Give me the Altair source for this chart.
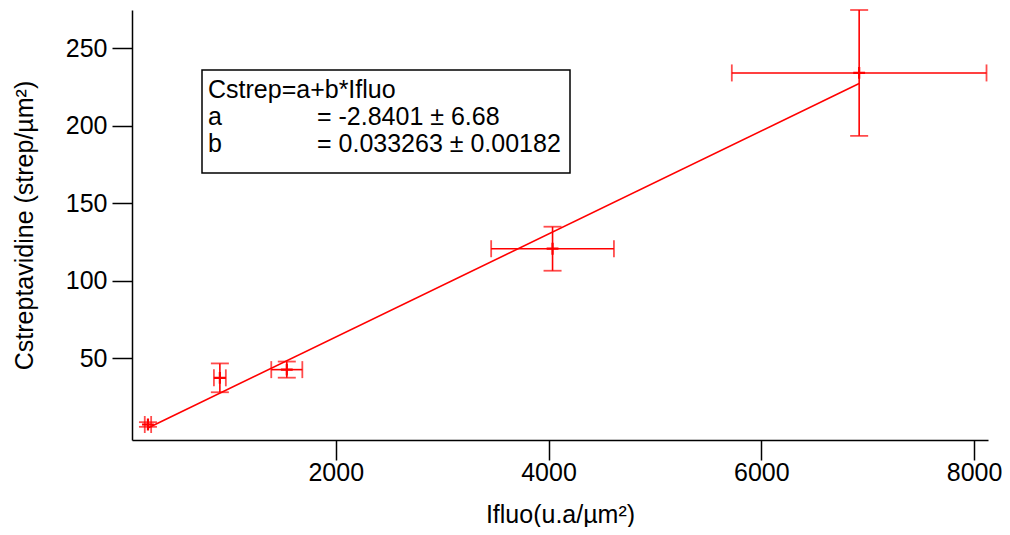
import altair as alt
import pandas as pd

# Data
ifluo = [235, 911, 1540, 4038, 6920]
cstrep = [7.3, 37.4, 42.7, 120.7, 234.1]
ifluo_err = [30, 56, 146, 577, 1197]
cstrep_err = [1.5, 9.3, 5.2, 14.2, 40.6]
fit_x = [235, 6920]
fit_y = [5.0, 227.3]
x_ticks = [2000, 4000, 6000, 8000]
y_ticks = [50, 100, 150, 200, 250]
legend_names = ["Cstrep=a+b*Ifluo", "a", "b"]
legend_values = ["", "= -2.8401 ± 6.68", "= 0.033263 ± 0.00182"]

RED = "#ff0000"
FONT = "Liberation Sans"
FS = 25

df = pd.DataFrame({"x": ifluo, "y": cstrep, "xe": ifluo_err, "ye": cstrep_err})
df["xlo"] = df["x"] - df["xe"]
df["xhi"] = df["x"] + df["xe"]
df["ylo"] = df["y"] - df["ye"]
df["yhi"] = df["y"] + df["ye"]

xcaps = pd.concat([
    pd.DataFrame({"x": df["xlo"], "y": df["y"]}),
    pd.DataFrame({"x": df["xhi"], "y": df["y"]}),
])
ycaps = pd.concat([
    pd.DataFrame({"x": df["x"], "y": df["ylo"]}),
    pd.DataFrame({"x": df["x"], "y": df["yhi"]}),
])
fit = pd.DataFrame({"x": fit_x, "y": fit_y})

xscale = alt.Scale(domain=[85, 8131], nice=False, zero=False)
yscale = alt.Scale(domain=[-2.7, 274.7], nice=False, zero=False)


def X(field="x"):
    return alt.X(f"{field}:Q", scale=xscale, title="Ifluo(u.a/µm²)",
                 axis=alt.Axis(values=x_ticks, format="d"))


def Y(field="y"):
    return alt.Y(f"{field}:Q", scale=yscale, title="Cstreptavidine (strep/µm²)",
                 axis=alt.Axis(values=y_ticks, format="d"))


line = alt.Chart(fit).mark_line(color=RED, strokeWidth=1.6).encode(x=X(), y=Y())

xbar = alt.Chart(df).mark_rule(color=RED, strokeWidth=1.6).encode(
    x=X("xlo"), x2="xhi:Q", y=Y())
ybar = alt.Chart(df).mark_rule(color=RED, strokeWidth=1.6).encode(
    x=X(), y=Y("ylo"), y2="yhi:Q")

xcap = alt.Chart(xcaps).mark_tick(color=RED, orient="vertical", size=17,
                                  thickness=1.8).encode(x=X(), y=Y())
ycap = alt.Chart(ycaps).mark_tick(color=RED, orient="horizontal", size=18,
                                  thickness=1.8).encode(x=X(), y=Y())

center = alt.Chart(df).mark_point(
    shape="M-1,0H1M0,-1V1", size=140, stroke=RED, strokeWidth=2.2, filled=False,
    opacity=1).encode(x=X(), y=Y())

box_df = pd.DataFrame({"k": [0]})
box = alt.Chart(box_df).mark_rect(fill="white", stroke="black", strokeWidth=1.5).encode(
    x=alt.value(70), x2=alt.value(438), y=alt.value(60), y2=alt.value(163))

leg = pd.DataFrame({"name": legend_names, "val": legend_values, "row": [0, 1, 2]})
row_off = alt.YOffset("row:Q", scale=alt.Scale(domain=[0, 1], range=[0, 27]))
leg_name = alt.Chart(leg).mark_text(
    align="left", baseline="middle", font=FONT, fontSize=FS, color="black"
).encode(x=alt.value(76), y=alt.value(80), yOffset=row_off, text="name:N")
leg_val = alt.Chart(leg).mark_text(
    align="left", baseline="middle", font=FONT, fontSize=FS, color="black"
).encode(x=alt.value(185), y=alt.value(80), yOffset=row_off, text="val:N")

chart = alt.layer(line, xbar, ybar, xcap, ycap, center, box, leg_name, leg_val).properties(
    width=856, height=430,
    autosize=alt.AutoSizeParams(type="none"),
    padding={"left": 124, "top": 2, "right": 14, "bottom": 87},
).configure_view(stroke=None).configure_axis(
    grid=False,
    domainColor="black", domainWidth=1.5,
    tickColor="black", tickWidth=1.5, tickSize=20,
    labelFont=FONT, labelFontSize=FS, labelColor="black",
    titleFont=FONT, titleFontSize=FS, titleColor="black", titleFontWeight="normal",
).configure_axisX(labelPadding=0, titlePadding=17).configure_axisY(labelPadding=5, titlePadding=28)

chart.save("out.html", embed_options={"renderer": "svg", "actions": False})
